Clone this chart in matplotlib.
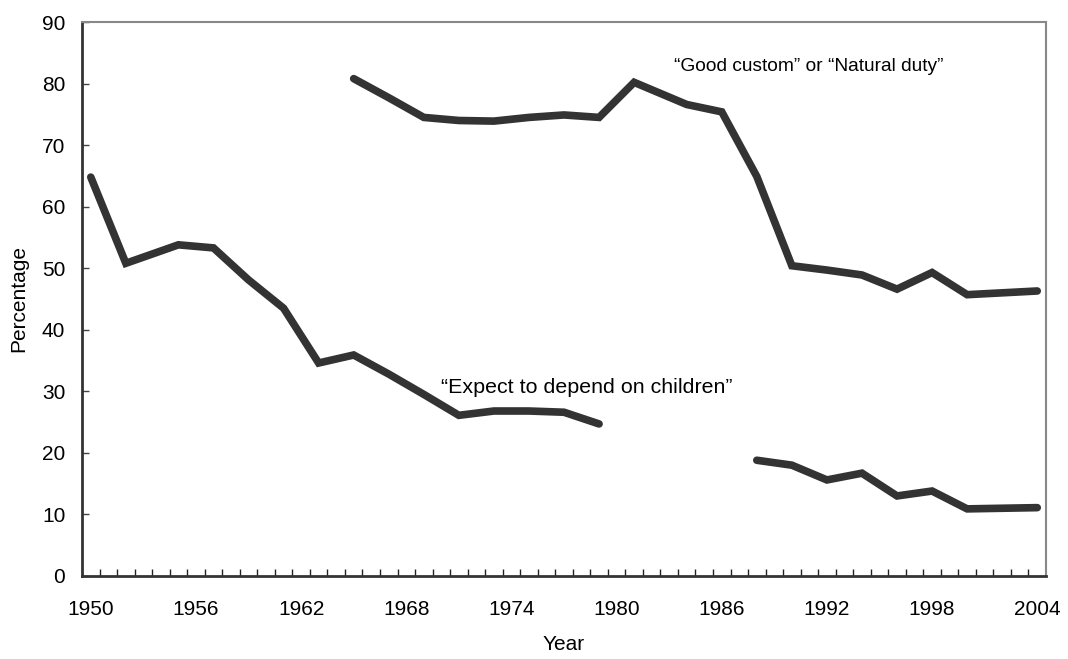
import numpy as np
from matplotlib import pyplot as plt

plt.rcParams['font.family'] = ['Liberation Sans', 'DejaVu Sans']
plt.rcParams['font.size'] = 15

# "Expect to depend on children" (gap 1981-1986)
years_expect = [1950, 1952, 1955, 1957, 1959, 1961, 1963, 1965, 1967, 1969,
                1971, 1973, 1975, 1977, 1979, 1984,
                1988, 1990, 1992, 1994, 1996, 1998, 2000, 2004]
expect = [64.8, 50.8, 53.8, 53.3, 48.1, 43.5, 34.6, 35.9, 32.8, 29.5,
          26.1, 26.8, 26.8, 26.6, 24.7, np.nan,
          18.8, 18.0, 15.6, 16.7, 13.0, 13.8, 10.9, 11.1]

# "Good custom" or "Natural duty"
years_custom = [1965, 1967, 1969, 1971, 1973, 1975, 1977, 1979, 1981, 1984,
                1986, 1988, 1990, 1992, 1994, 1996, 1998, 2000, 2004]
custom = [80.8, 77.7, 74.5, 74.0, 73.9, 74.5, 74.9, 74.5, 80.2, 76.6,
          75.4, 64.9, 50.4, 49.7, 48.9, 46.6, 49.3, 45.7, 46.3]

year_ticks = list(range(1950, 2005, 6))

fig = plt.figure(figsize=(10.68, 6.59), dpi=100)
ax = fig.add_axes([0.0768, 0.126, 0.9026, 0.8406])

line_kw = dict(color='#333333', lw=5.5, solid_capstyle='round', solid_joinstyle='miter')
ax.plot(years_expect, expect, **line_kw)
ax.plot(years_custom, custom, **line_kw)

ax.text(1983.3, 82.0, '\u201cGood custom\u201d or \u201cNatural duty\u201d',
        ha='left', va='baseline', fontsize=13.8)
ax.text(1970.0, 29.8, '\u201cExpect to depend on children\u201d',
        ha='left', va='baseline', fontsize=15.4)

ax.set_xlim(1949.5, 2004.5)
ax.set_ylim(0, 90)
ax.set_xticks(year_ticks)
ax.set_xticks(np.arange(1950.5, 2004.5, 1), minor=True)
ax.set_yticks(range(0, 91, 10))
ax.tick_params(axis='x', which='major', length=0, pad=17)
ax.tick_params(axis='x', which='minor', direction='in', length=5, width=1, color='#222222')
ax.tick_params(axis='y', direction='in', length=5, width=1, color='#444444', pad=12)

ax.set_xlabel('Year', labelpad=12)
ax.set_ylabel('Percentage', labelpad=10)

for side in ['left', 'bottom']:
    ax.spines[side].set_color('#333333')
    ax.spines[side].set_linewidth(2)
for side in ['top', 'right']:
    ax.spines[side].set_color('#888888')
    ax.spines[side].set_linewidth(1.5)

fig.savefig('out.png', dpi=100)
